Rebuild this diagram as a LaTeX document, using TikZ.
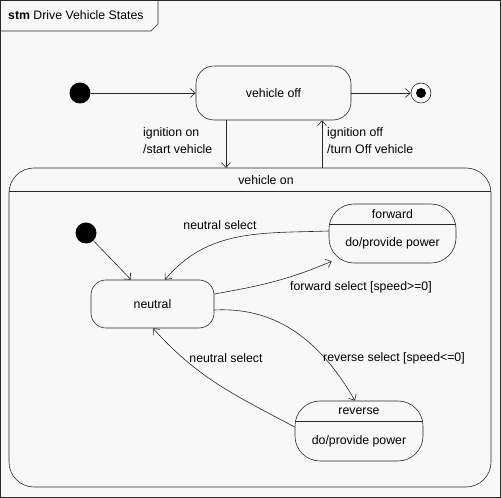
\documentclass[tikz,border=0pt]{standalone}
\usepackage{fontspec}
\setmainfont{Liberation Sans}
\usetikzlibrary{arrows.meta}
\definecolor{bgc}{RGB}{248,248,248}
\definecolor{ln}{RGB}{40,40,40}
\begin{document}
\begin{tikzpicture}[x=1pt,y=1pt,
  every node/.style={font=\fontsize{12.3}{14}\selectfont, text=black},
  st/.style={draw=ln, line width=0.6pt, fill=bgc, rectangle, inner sep=0pt},
  initst/.style={circle, fill=black, minimum size=21pt, inner sep=0pt},
  tr/.style={draw=ln, line width=0.6pt, -{Straight Barb[length=5pt,width=9pt]}},
  lbl/.style={inner sep=0pt}]
\useasboundingbox (0,0) rectangle (501,498);
\fill[bgc] (0,0) rectangle (501,498);
\draw[ln, line width=0.8pt] (0.5,0.5) rectangle (500.5,497.5);
\draw[ln, line width=0.6pt] (0.5,467) -- (151,467) -- (158,474) -- (158,497.5);
\node[lbl, anchor=west] (title) at (8,483) {\textbf{stm} Drive Vehicle States};

% top level
\node[initst] (i1) at (80,405) {};
\node[st, rounded corners=18pt, minimum width=155pt, minimum height=54pt] (off) at (273.5,405) {vehicle off};
\node[circle, draw=ln, line width=0.6pt, fill=white, minimum size=20pt, inner sep=0pt] (fin) at (421,405) {};
\node[circle, fill=black, minimum size=10pt, inner sep=0pt] (finin) at (fin) {};

\node[st, rounded corners=25pt, minimum width=482pt, minimum height=319pt] (on) at (250,170.5) {};
\draw[ln, line width=0.6pt] ([yshift=-24pt]on.north west) -- ([yshift=-24pt]on.north east);
\node[lbl] (ontitle) at (266,318) {vehicle on};

\draw[tr] (i1) -- (off);
\draw[tr] (off) -- (fin);
\coordinate (ondn) at (226,330);
\coordinate (onup) at (322,330);
\draw[tr] (off.south -| ondn) -- (ondn);
\draw[tr] (onup) -- (off.south -| onup);
\node[lbl, anchor=west] (l1a) at (143,365) {ignition on};
\node[lbl, anchor=west] (l1b) at (143,349) {/start vehicle};
\node[lbl, anchor=west] (l2a) at (327,365) {ignition off};
\node[lbl, anchor=west] (l2b) at (327,349) {/turn Off vehicle};

% inner
\node[initst] (i2) at (86,265) {};
\node[st, rounded corners=15pt, minimum width=123pt, minimum height=48pt] (neu) at (152.5,194) {neutral};
\node[st, rounded corners=25pt, minimum width=127pt, minimum height=59pt] (fwd) at (392.5,264.5) {};
\draw[ln, line width=0.6pt] ([yshift=9.5pt]fwd.west) -- ([yshift=9.5pt]fwd.east);
\node[lbl] (fwdn) at (392.5,284) {forward};
\node[lbl] (fwdd) at (392.5,255) {do/provide power};
\node[st, rounded corners=25pt, minimum width=128pt, minimum height=60pt] (rev) at (359,67) {};
\draw[ln, line width=0.6pt] ([yshift=10pt]rev.west) -- ([yshift=10pt]rev.east);
\node[lbl] (revn) at (359,87) {reverse};
\node[lbl] (revd) at (359,57) {do/provide power};

\draw[tr] (i2) -- ([xshift=-21.5pt]neu.north);
\draw[tr] ([yshift=2.5pt]fwd.west) to[out=182,in=50] ([xshift=12.5pt]neu.north);
\draw[tr] ([yshift=10pt]neu.east) to[out=10,in=203] ([xshift=3pt,yshift=2pt]fwd.south west);
\draw[tr] ([yshift=-6pt]neu.east) to[out=3,in=120] ([xshift=-4pt]rev.north);
\draw[tr] ([yshift=4pt]rev.west) to[out=152,in=-48] ([xshift=0.5pt]neu.south);

\node[lbl] (ns1) at (220,273) {neutral select};
\node[lbl, anchor=west] (fs) at (290,211) {forward select [speed>=0]};
\node[lbl, anchor=west] (rs) at (323,140) {reverse select [speed<=0]};
\node[lbl] (ns2) at (226,140) {neutral select};
\end{tikzpicture}
\end{document}
